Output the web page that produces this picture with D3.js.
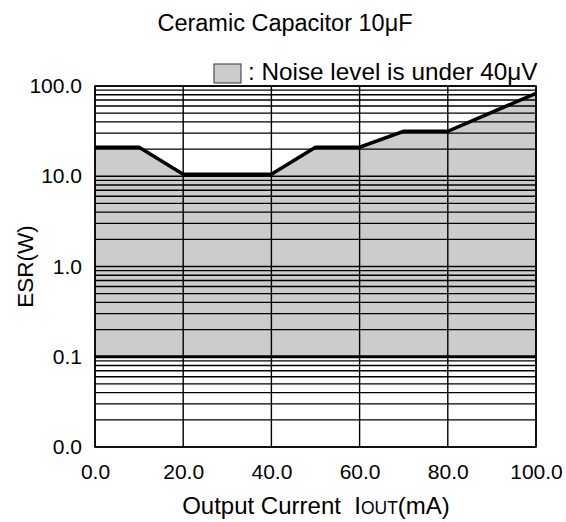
<!DOCTYPE html>
<html>
<head>
<meta charset="utf-8">
<script src="https://cdn.jsdelivr.net/npm/d3@7"></script>
<style>
  body { margin: 0; background: #fff; }
  svg { font-family: "Liberation Sans", Arial, sans-serif; }
</style>
</head>
<body>
<svg width="566" height="522"></svg>
<script>
// values
var current = [0, 10, 20, 40, 50, 60, 70, 80, 100];
var esrUpper = [21, 21, 10.5, 10.5, 21, 21, 31.5, 31.5, 83];
var esrLower = 0.1;

var xTicks = [0, 20, 40, 60, 80, 100];
var xTickLabels = ["0.0", "20.0", "40.0", "60.0", "80.0", "100.0"];
var yTicks = [0.01, 0.1, 1, 10, 100];
var yTickLabels = ["0.0", "0.1", "1.0", "10.0", "100.0"];

var svg = d3.select("svg");
var mLeft = 95, mRight = 536, mTop = 86, mBottom = 447;

var x = d3.scaleLinear().domain([0, 100]).range([mLeft, mRight]);
var y = d3.scaleLog().domain([0.01, 100]).range([mBottom, mTop]);

// minor log grid values
var grid = [];
[0.01, 0.1, 1, 10].forEach(function(d) {
  for (var k = 1; k <= 9; k++) grid.push(d * k);
});
grid.push(100);

// shaded region
var pts = current.map(function(c, i) { return {x: c, hi: esrUpper[i]}; });
var area = d3.area()
    .x(function(d) { return x(d.x); })
    .y0(function(d) { return y(esrLower); })
    .y1(function(d) { return y(d.hi); });

svg.append("path")
   .datum(pts)
   .attr("d", area)
   .attr("fill", "#cccccc");

// horizontal grid
svg.append("g")
   .selectAll("line")
   .data(grid)
   .enter().append("line")
   .attr("x1", mLeft).attr("x2", mRight)
   .attr("y1", function(d) { return y(d); })
   .attr("y2", function(d) { return y(d); })
   .attr("stroke", "#000")
   .attr("stroke-width", function(d) { return Math.abs(d - 0.1) < 1e-9 ? 3 : 1.3; });

// vertical grid
svg.append("g")
   .selectAll("line")
   .data(xTicks)
   .enter().append("line")
   .attr("x1", function(d) { return x(d); })
   .attr("x2", function(d) { return x(d); })
   .attr("y1", mTop).attr("y2", mBottom)
   .attr("stroke", "#000")
   .attr("stroke-width", 1.4);

// frame
svg.append("rect")
   .attr("x", mLeft).attr("y", mTop)
   .attr("width", mRight - mLeft).attr("height", mBottom - mTop)
   .attr("fill", "none").attr("stroke", "#000").attr("stroke-width", 1.5);

// upper limit line
var line = d3.line()
    .x(function(d) { return x(d.x); })
    .y(function(d) { return y(d.hi); });

svg.append("path")
   .datum(pts)
   .attr("d", line)
   .attr("fill", "none")
   .attr("stroke", "#000")
   .attr("stroke-width", 3.5)
   .attr("stroke-linejoin", "miter");

// axes labels
var yAxis = d3.axisLeft(y)
    .tickValues(yTicks)
    .tickSize(0)
    .tickPadding(13)
    .tickFormat(function(d, i) { return yTickLabels[i]; });

svg.append("g")
   .attr("transform", "translate(" + mLeft + ",0)")
   .call(yAxis)
   .call(function(g) { g.select(".domain").remove(); })
   .selectAll("text")
   .attr("font-size", 21)
   .attr("font-family", "Liberation Sans, Arial, sans-serif")
   .attr("fill", "#000");

var xAxis = d3.axisBottom(x)
    .tickValues(xTicks)
    .tickSize(0)
    .tickPadding(17)
    .tickFormat(function(d, i) { return xTickLabels[i]; });

svg.append("g")
   .attr("transform", "translate(0," + mBottom + ")")
   .call(xAxis)
   .call(function(g) { g.select(".domain").remove(); })
   .selectAll("text")
   .attr("font-size", 21)
   .attr("font-family", "Liberation Sans, Arial, sans-serif")
   .attr("fill", "#000");

// titles
svg.append("text")
   .attr("x", 285).attr("y", 31)
   .attr("text-anchor", "middle")
   .attr("font-size", 23.5)
   .text("Ceramic Capacitor 10\u03bcF");

var xt = svg.append("text")
   .attr("x", 316).attr("y", 514)
   .attr("text-anchor", "middle")
   .attr("font-size", 24)
   .attr("xml:space", "preserve");
xt.append("tspan").text("Output Current  I");
xt.append("tspan").attr("font-size", 17.5).text("OUT");
xt.append("tspan").text("(mA)");

svg.append("text")
   .attr("transform", "translate(33," + ((mTop + mBottom) / 2) + ") rotate(-90)")
   .attr("text-anchor", "middle")
   .attr("font-size", 22.5)
   .text("ESR(W)");

// legend
svg.append("rect")
   .attr("x", 214).attr("y", 64)
   .attr("width", 27).attr("height", 19)
   .attr("fill", "#cccccc")
   .attr("stroke", "#333").attr("stroke-width", 1);

svg.append("text")
   .attr("x", 248).attr("y", 80)
   .attr("font-size", 24.3)
   .text(": Noise level is under 40\u03bcV");
</script>
</body>
</html>
